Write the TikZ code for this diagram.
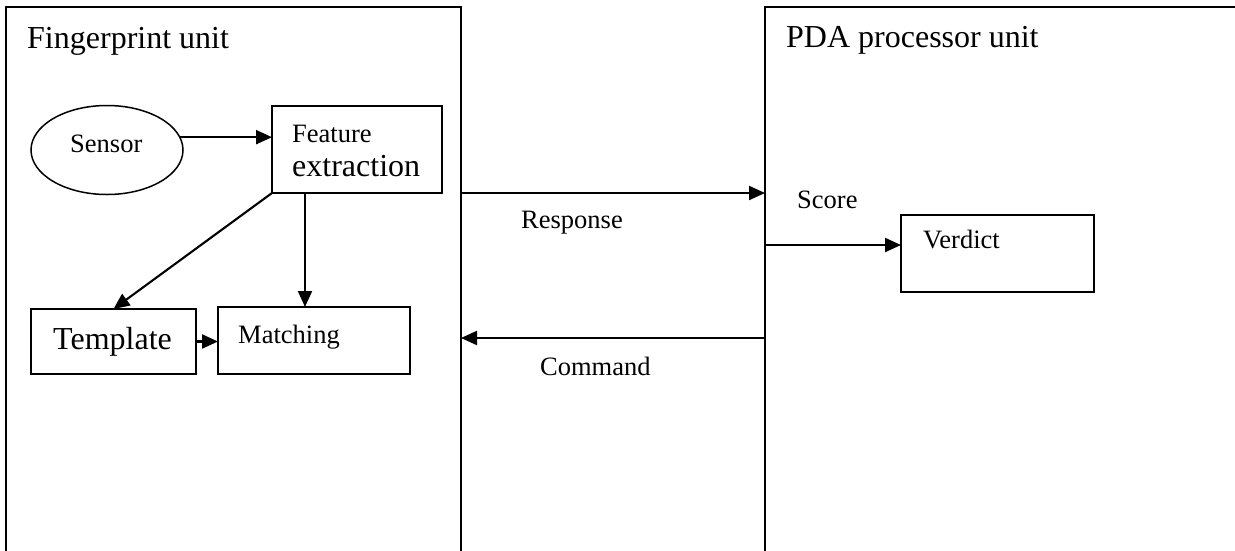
\documentclass[tikz,border=0pt]{standalone}
\usepackage{fontspec}
\setmainfont{Liberation Serif}
\usetikzlibrary{arrows.meta,shapes.geometric}
\tikzset{
  unitbox/.style={draw, line width=1.7pt, rectangle, anchor=north west, inner sep=0pt, outer sep=0pt},
  blockbox/.style={draw, line width=1.7pt, rectangle, anchor=north west, inner sep=0pt, outer sep=0pt},
  oval/.style={draw, line width=1.5pt, ellipse, inner sep=0pt, outer sep=0pt},
  bigtxt/.style={anchor=base west, inner sep=0pt, font=\fontsize{32}{36}\selectfont},
  smalltxt/.style={anchor=base west, inner sep=0pt, font=\fontsize{26.5}{30}\selectfont},
  arr/.style={line width=2.1pt, -{Triangle[length=16pt,width=14pt]}}
}
\begin{document}
\begin{tikzpicture}[x=1pt,y=-1pt]
\useasboundingbox (0,0) rectangle (1235,550);
\clip (0,0) rectangle (1235,550);
\fill[white] (0,0) rectangle (1235,550);
% units
\node[unitbox, minimum width=455, minimum height=620] (fpu) at (6,7) {};
\node[unitbox, minimum width=620, minimum height=620] (pda) at (765,7) {};
\node[bigtxt] (fput) at (27,48) {Fingerprint unit};
\node[bigtxt] (pdat) at (786,47) {PDA processor unit};
% blocks
\node[oval, minimum width=152, minimum height=89] (sensor) at (107,150) {};
\node[smalltxt] (sensort) at (70,152) {Sensor};
\node[blockbox, minimum width=170, minimum height=87] (fe) at (272,106) {};
\node[smalltxt] (fet1) at (292,142) {Feature};
\node[bigtxt] (fet2) at (292,176) {extraction};
\node[blockbox, minimum width=165, minimum height=65] (tmpl) at (31,309) {};
\node[bigtxt] (tmplt) at (53,349) {Template};
\node[blockbox, minimum width=192, minimum height=67] (match) at (218,307) {};
\node[smalltxt] (matcht) at (238,343) {Matching};
\node[blockbox, minimum width=193, minimum height=77] (verdict) at (901,215) {};
\node[smalltxt] (verdictt) at (923,248) {Verdict};
% labels
\node[smalltxt] (resp) at (521,228) {Response};
\node[smalltxt] (score) at (797,208) {Score};
\node[smalltxt] (cmd) at (540,375) {Command};
% helper coordinates
\coordinate (vx) at (305,0);
\coordinate (ry) at (0,193);
\coordinate (sy) at (0,245);
\coordinate (cy) at (0,338);
% connectors
\draw[arr] (sensor.10) -- (fe.west |- sensor.10);
\draw[arr] (fe.south west) -- (tmpl.north);
\draw[arr] (fe.south -| vx) -- (match.north -| vx);
\draw[arr] (tmpl.east) -- (match.west |- tmpl.east);
\draw[arr] (fpu.east |- ry) -- (pda.west |- ry);
\draw[arr] (pda.west |- sy) -- (verdict.west |- sy);
\draw[arr] (pda.west |- cy) -- (fpu.east |- cy);
\end{tikzpicture}
\end{document}
